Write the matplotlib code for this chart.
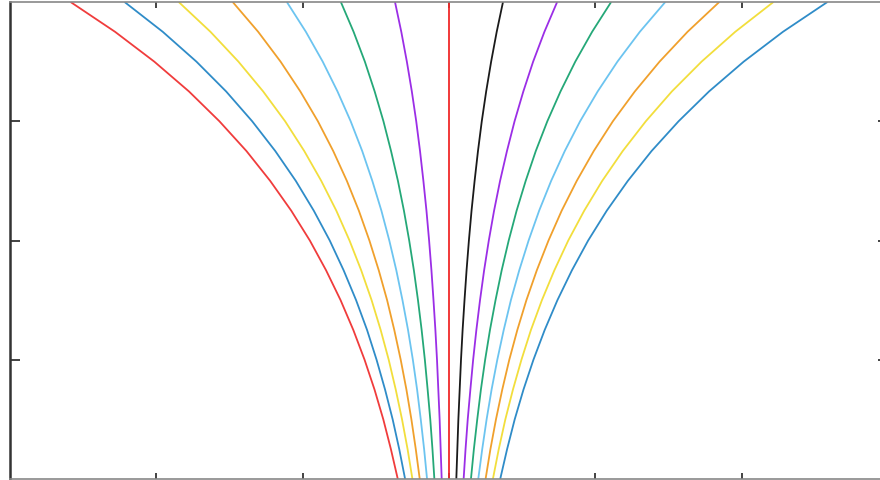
import matplotlib
matplotlib.use("Agg")
import matplotlib.pyplot as plt

# y sample levels (shared by every curve)
y_levels = [0.0, 0.25, 0.5, 0.75, 1.0, 1.25, 1.5, 1.75, 2.0, 2.25, 2.5, 2.75, 3.0, 3.25, 3.5, 3.75, 4.0]

# x positions of each curve at the y levels (left to right across the chart)
curve_left7 = [-0.350, -0.397, -0.449, -0.509, -0.577, -0.654, -0.741, -0.840, -0.951, -1.078, -1.222, -1.384, -1.569, -1.777, -2.014, -2.282, -2.586]
curve_left6 = [-0.300, -0.340, -0.385, -0.437, -0.495, -0.560, -0.635, -0.720, -0.815, -0.924, -1.047, -1.187, -1.345, -1.523, -1.726, -1.956, -2.217]
curve_left5 = [-0.250, -0.283, -0.321, -0.364, -0.412, -0.467, -0.529, -0.600, -0.680, -0.770, -0.873, -0.989, -1.120, -1.270, -1.439, -1.630, -1.847]
curve_left4 = [-0.200, -0.227, -0.257, -0.291, -0.330, -0.374, -0.423, -0.480, -0.544, -0.616, -0.698, -0.791, -0.896, -1.016, -1.151, -1.304, -1.478]
curve_left3 = [-0.150, -0.170, -0.193, -0.218, -0.247, -0.280, -0.318, -0.360, -0.408, -0.462, -0.524, -0.593, -0.672, -0.762, -0.863, -0.978, -1.108]
curve_left2 = [-0.100, -0.113, -0.128, -0.146, -0.165, -0.187, -0.212, -0.240, -0.272, -0.308, -0.349, -0.396, -0.448, -0.508, -0.575, -0.652, -0.739]
curve_left1 = [-0.050, -0.057, -0.064, -0.073, -0.082, -0.093, -0.106, -0.120, -0.136, -0.154, -0.175, -0.198, -0.224, -0.254, -0.288, -0.326, -0.369]
curve_center = [0.0] * 17
curve_right1 = [0.050, 0.057, 0.064, 0.073, 0.082, 0.093, 0.106, 0.120, 0.136, 0.154, 0.175, 0.198, 0.224, 0.254, 0.288, 0.326, 0.369]
curve_right2 = [0.100, 0.113, 0.128, 0.146, 0.165, 0.187, 0.212, 0.240, 0.272, 0.308, 0.349, 0.396, 0.448, 0.508, 0.575, 0.652, 0.739]
curve_right3 = [0.150, 0.170, 0.193, 0.218, 0.247, 0.280, 0.318, 0.360, 0.408, 0.462, 0.524, 0.593, 0.672, 0.762, 0.863, 0.978, 1.108]
curve_right4 = [0.200, 0.227, 0.257, 0.291, 0.330, 0.374, 0.423, 0.480, 0.544, 0.616, 0.698, 0.791, 0.896, 1.016, 1.151, 1.304, 1.478]
curve_right5 = [0.250, 0.283, 0.321, 0.364, 0.412, 0.467, 0.529, 0.600, 0.680, 0.770, 0.873, 0.989, 1.120, 1.270, 1.439, 1.630, 1.847]
curve_right6 = [0.300, 0.340, 0.385, 0.437, 0.495, 0.560, 0.635, 0.720, 0.815, 0.924, 1.047, 1.187, 1.345, 1.523, 1.726, 1.956, 2.217]
curve_right7 = [0.350, 0.397, 0.449, 0.509, 0.577, 0.654, 0.741, 0.840, 0.951, 1.078, 1.222, 1.384, 1.569, 1.777, 2.014, 2.282, 2.586]

curves = [curve_left7, curve_left6, curve_left5, curve_left4, curve_left3, curve_left2, curve_left1,
          curve_center,
          curve_right1, curve_right2, curve_right3, curve_right4, curve_right5, curve_right6, curve_right7]

colors = ["#f03c3c", "#2f8cc8", "#f2de3c", "#f0a02c", "#6cc4f0", "#25a878", "#9b2ee6",
          "#f02a2a",
          "#1a1a1a", "#9b2ee6", "#25a878", "#6cc4f0", "#f0a02c", "#f2de3c", "#2f8cc8"]

x_ticks = [-2, -1, 0, 1, 2]
y_ticks = [1, 2, 3]

fig = plt.figure(figsize=(8.8, 4.81), dpi=100)
ax = fig.add_axes([10 / 880, 1 / 481, 878 / 880, 477 / 481])

for xs, c in zip(curves, colors):
    ax.plot(xs, y_levels, color=c, lw=1.3, solid_capstyle="butt", solid_joinstyle="round")

ax.set_xlim(-3, 3)
ax.set_ylim(0, 4)
ax.set_xticks(x_ticks)
ax.set_yticks(y_ticks)
ax.tick_params(axis="both", direction="in", top=True, right=True,
               labelbottom=False, labelleft=False, color="#222222", width=1.2)
ax.tick_params(axis="y", length=7)
ax.tick_params(axis="x", length=4)

ax.spines["left"].set_color("#333333")
ax.spines["left"].set_linewidth(1.8)
for s in ["bottom", "top", "right"]:
    ax.spines[s].set_color("#888888")
    ax.spines[s].set_linewidth(1.2)

fig.savefig("out.png", dpi=100)
